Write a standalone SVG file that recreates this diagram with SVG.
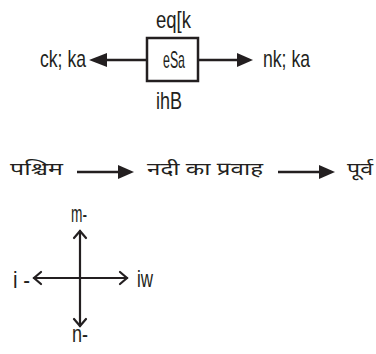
<svg xmlns="http://www.w3.org/2000/svg" width="376" height="354" viewBox="0 0 376 354">
<style>
.t{font-family:"Liberation Sans","DejaVu Sans",sans-serif;font-size:24px;fill:#231f20}
.d{font-family:"Noto Sans Devanagari","Noto Sans","Lohit Devanagari","FreeSans",sans-serif;font-size:18px;fill:#231f20}
.ln{stroke:#231f20;stroke-width:2.5;fill:none}
.op{stroke:#231f20;stroke-width:2.2;fill:none;stroke-linecap:round;stroke-linejoin:miter}
.hd{fill:#231f20}
</style>
<rect width="376" height="354" fill="#fff"/>
<g id="connectors">
  <line class="ln" x1="146" y1="60" x2="104" y2="60"/>
  <polygon class="hd" points="89,60 107,53 107,67"/>
  <line class="ln" x1="199" y1="60" x2="241" y2="60"/>
  <polygon class="hd" points="253,60 237,53 237,67"/>
  <line class="ln" x1="77" y1="172" x2="121" y2="172"/>
  <polygon class="hd" points="134,172 118,165 118,179"/>
  <line class="ln" x1="278" y1="172" x2="322" y2="172"/>
  <polygon class="hd" points="335,172 319,165 319,179"/>
  <line class="op" x1="80" y1="231" x2="80" y2="326"/>
  <line class="op" x1="34" y1="278" x2="127" y2="278"/>
  <polyline class="op" points="74,238 80,231 86,238"/>
  <polyline class="op" points="74,319 80,326 86,319"/>
  <polyline class="op" points="41,272 34,278 41,284"/>
  <polyline class="op" points="120,272 127,278 120,284"/>
</g>
<g id="node-box">
  <rect x="147" y="38" width="51" height="43" fill="#fff" stroke="#231f20" stroke-width="2.5"/>
  <text class="t" x="163" y="68" textLength="22" lengthAdjust="spacingAndGlyphs">eSa</text>
</g>
<g id="node-top"><text class="t" x="156" y="28" textLength="35" lengthAdjust="spacingAndGlyphs">eq[k</text></g>
<g id="node-left"><text class="t" x="40" y="67" textLength="46" lengthAdjust="spacingAndGlyphs">ck; ka</text></g>
<g id="node-right"><text class="t" x="263" y="67" textLength="47" lengthAdjust="spacingAndGlyphs">nk; ka</text></g>
<g id="node-bottom"><text class="t" x="156" y="109" textLength="26" lengthAdjust="spacingAndGlyphs">ihB</text></g>
<g id="node-west"><text class="d" x="10" y="175" textLength="53" lengthAdjust="spacingAndGlyphs">पश्चिम</text></g>
<g id="node-river"><text class="d" x="147" y="175" textLength="116" lengthAdjust="spacingAndGlyphs">नदी का प्रवाह</text></g>
<g id="node-east"><text class="d" x="347" y="175" textLength="26" lengthAdjust="spacingAndGlyphs">पूर्व</text></g>
<g id="compass-n"><text class="t" x="71" y="222" textLength="16" lengthAdjust="spacingAndGlyphs">m-</text></g>
<g id="compass-w"><text class="t" x="13" y="288" textLength="17" lengthAdjust="spacingAndGlyphs">i -</text></g>
<g id="compass-e"><text class="t" x="137" y="287" textLength="16" lengthAdjust="spacingAndGlyphs">iw</text></g>
<g id="compass-s"><text class="t" x="72" y="342" textLength="16" lengthAdjust="spacingAndGlyphs">n-</text></g>
</svg>
